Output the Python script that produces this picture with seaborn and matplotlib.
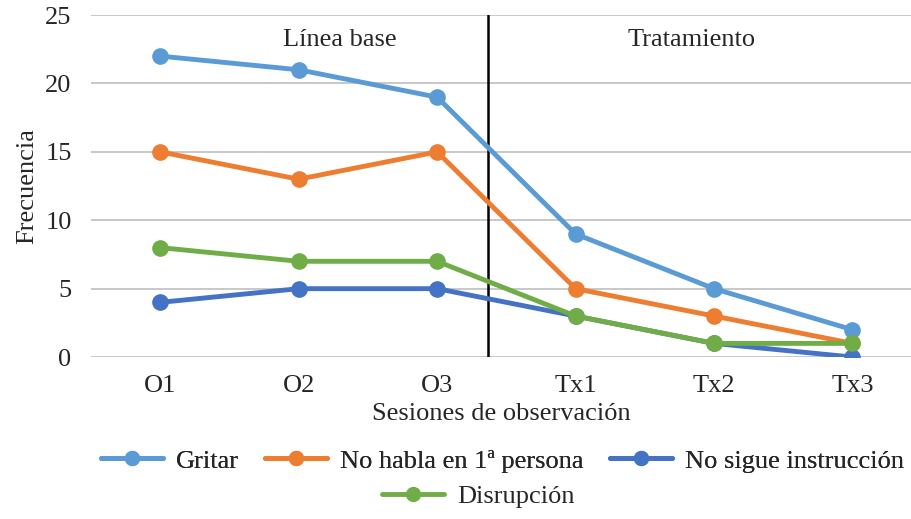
import pandas as pd
import numpy as np
import matplotlib
matplotlib.use("Agg")
import matplotlib.pyplot as plt
import seaborn as sns

sesiones = ["O1", "O2", "O3", "Tx1", "Tx2", "Tx3"]
gritar = [22, 21, 19, 9, 5, 2]
no_habla = [15, 13, 15, 5, 3, 1]
no_sigue = [4, 5, 5, 3, 1, 0]
disrupcion = [8, 7, 7, 3, 1, 1]

series = ["Gritar", "No habla en 1ª persona", "No sigue instrucción", "Disrupción"]
colores = ["#5B9BD5", "#ED7D31", "#4472C4", "#70AD47"]

df = pd.DataFrame({
    "Sesión": sesiones * 4,
    "pos": list(range(len(sesiones))) * 4,
    "Frecuencia": gritar + no_habla + no_sigue + disrupcion,
    "Conducta": [s for s in series for _ in sesiones],
})

sns.set_style("white")
plt.rcParams["font.family"] = ["Liberation Serif", "DejaVu Serif"]
fs = 19

fig = plt.figure(figsize=(9.12, 5.19), dpi=100)
ax = fig.add_axes([0.0998, 0.312, 0.9002, 0.659])

sns.lineplot(data=df, x="pos", y="Frecuencia", hue="Conducta", hue_order=series,
             palette=colores, marker="o", markersize=12, markeredgewidth=0,
             linewidth=3.5, ax=ax, legend=False, zorder=3)

ax.set_xlim(-0.5, 5.43)
ax.set_ylim(0, 25)
ax.set_yticks(range(0, 26, 5))
ax.set_xticks(range(len(sesiones)))
ax.set_xticklabels(sesiones)
ax.tick_params(axis="x", labelsize=fs, pad=13, length=0)
ax.tick_params(axis="y", labelsize=fs, pad=14, length=0)
ax.grid(axis="y", color="#BFBFBF", linewidth=1.2)
ax.grid(axis="x", visible=False)
for s in ax.spines.values():
    s.set_visible(False)

# separador entre fases
ax.axvline(2.37, color="black", linewidth=1.8, zorder=2)
ax.text(1.30, 23.2, "Línea base", fontsize=fs, ha="center", va="center")
ax.text(3.84, 23.2, "Tratamiento", fontsize=fs, ha="center", va="center")

ax.set_xlabel("Sesiones de observación", fontsize=fs, labelpad=4)
ax.set_ylabel("Frecuencia", fontsize=fs, labelpad=5)

handles = [plt.Line2D([], [], color=c, linewidth=3.5, marker="o", markersize=11,
                      markeredgewidth=0) for c in colores]
leg1 = fig.legend(handles[:3], series[:3], loc="center", bbox_to_anchor=(0.551, 0.112),
                  ncol=3, frameon=False, fontsize=fs, handlelength=2.35,
                  columnspacing=1.0, handletextpad=0.5)
fig.add_artist(leg1)
fig.legend(handles[3:], series[3:], loc="center", bbox_to_anchor=(0.525, 0.043),
           frameon=False, fontsize=fs, handlelength=2.35, handletextpad=0.5)

fig.savefig("out.png", dpi=100)
